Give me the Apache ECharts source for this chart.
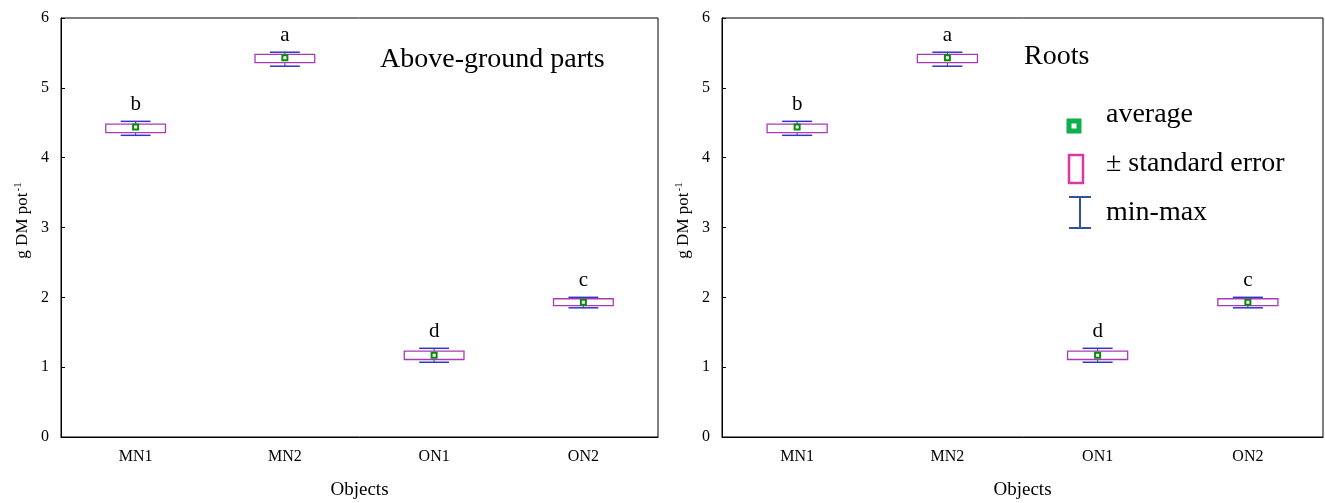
<!DOCTYPE html>
<html>
<head>
<meta charset="utf-8">
<script src="https://cdn.jsdelivr.net/npm/echarts@6/dist/echarts.min.js"></script>
<style>
  html, body { margin: 0; padding: 0; background: #fff; }
  #chart { width: 1325px; height: 503px; }
</style>
</head>
<body>
<div id="chart"></div>
<script>
// categories and values
const categories = ["MN1", "MN2", "ON1", "ON2"];
const minVals = [4.32, 5.31, 1.07, 1.85];
const seLow = [4.36, 5.36, 1.11, 1.88];
const avgVals = [4.44, 5.43, 1.17, 1.93];
const seHigh = [4.48, 5.48, 1.23, 1.98];
const maxVals = [4.52, 5.51, 1.27, 2.00];
const letters = ["b", "a", "d", "c"];
const yTicks = [0, 1, 2, 3, 4, 5, 6];

const font = "Liberation Serif";

function boxData() {
  return categories.map((c, i) => [i, minVals[i], seLow[i], avgVals[i], seHigh[i], maxVals[i], letters[i]]);
}

function renderBox(params, api) {
  const i = api.value(0);
  const band = api.size([1, 0])[0];
  const pMin = api.coord([i, api.value(1)]);
  const pLo = api.coord([i, api.value(2)]);
  const pAvg = api.coord([i, api.value(3)]);
  const pHi = api.coord([i, api.value(4)]);
  const pMax = api.coord([i, api.value(5)]);
  const x = pAvg[0];
  const bw = band * 0.4;
  const ww = band * 0.2;
  const blue = "#3434c4";
  return {
    type: "group",
    children: [
      { type: "line", shape: { x1: x, y1: pMax[1], x2: x, y2: pHi[1] }, style: { stroke: blue, lineWidth: 1 } },
      { type: "line", shape: { x1: x, y1: pLo[1], x2: x, y2: pMin[1] }, style: { stroke: blue, lineWidth: 1 } },
      { type: "line", shape: { x1: x - ww / 2, y1: pMax[1], x2: x + ww / 2, y2: pMax[1] }, style: { stroke: blue, lineWidth: 1.5 } },
      { type: "line", shape: { x1: x - ww / 2, y1: pMin[1], x2: x + ww / 2, y2: pMin[1] }, style: { stroke: blue, lineWidth: 1.5 } },
      { type: "rect", shape: { x: x - bw / 2, y: pHi[1], width: bw, height: pLo[1] - pHi[1] },
        style: { fill: "#fff", stroke: "#a83ab8", lineWidth: 1.3 } },
      { type: "rect", shape: { x: x - 2.5, y: pAvg[1] - 2.5, width: 5, height: 5 },
        style: { fill: "#fff", stroke: "#0a8a0a", lineWidth: 2 } },
      { type: "text", style: { text: api.value(6), x: x, y: pMax[1] - 6, align: "center", verticalAlign: "bottom",
        font: "21px '" + font + "'", fill: "#000" } }
    ]
  };
}

function xAxisCfg(gi) {
  return {
    gridIndex: gi, type: "category", data: categories,
    name: "Objects", nameLocation: "middle", nameGap: 44,
    nameTextStyle: { fontFamily: font, fontSize: 19, color: "#000" },
    axisLine: { lineStyle: { color: "#000", width: 1 } },
    axisTick: { inside: true, alignWithLabel: true, length: 4, lineStyle: { color: "#000" } },
    axisLabel: { fontFamily: font, fontSize: 16, color: "#000", margin: 12 },
    splitLine: { show: false }
  };
}

function yAxisCfg(gi) {
  return {
    gridIndex: gi, type: "value", min: 0, max: 6, interval: 1,
    name: "{a|g DM pot}{b|-1}", nameLocation: "middle", nameGap: 29,
    nameTextStyle: {
      padding: [0, 0, 0, 14],
      rich: {
        a: { fontFamily: font, fontSize: 17, color: "#000" },
        b: { fontFamily: font, fontSize: 11, color: "#000", verticalAlign: "top", padding: [0, 0, 8, 1] }
      }
    },
    axisLine: { show: true, lineStyle: { color: "#000", width: 1 } },
    axisTick: { show: true, inside: true, length: 4, lineStyle: { color: "#000" } },
    axisLabel: { fontFamily: font, fontSize: 16, color: "#000", margin: 12,
      formatter: v => (yTicks.indexOf(v) >= 0 ? String(v) : "") },
    splitLine: { show: false }
  };
}

const legendItems = ["average", "± standard error", "min-max"];
const legendTop = 117;
const legendStep = 49;

const chart = echarts.init(document.getElementById("chart"), null, { renderer: "canvas" });
chart.setOption({
  backgroundColor: "#fff",
  animation: false,
  title: [
    { text: "Above-ground parts", left: 375, top: 41, textStyle: { fontFamily: font, fontSize: 28, fontWeight: "normal", color: "#000" } },
    { text: "Roots", left: 1019, top: 38, textStyle: { fontFamily: font, fontSize: 28, fontWeight: "normal", color: "#000" } }
  ],
  grid: [
    { left: 61, top: 18, width: 597, height: 419, show: true, borderColor: "#000", borderWidth: 1,
      backgroundColor: "transparent", outerBoundsMode: "none" },
    { left: 722, top: 18, width: 601, height: 419, show: true, borderColor: "#000", borderWidth: 1,
      backgroundColor: "transparent", outerBoundsMode: "none" }
  ],
  xAxis: [xAxisCfg(0), xAxisCfg(1)],
  yAxis: [yAxisCfg(0), yAxisCfg(1)],
  series: [
    { type: "custom", xAxisIndex: 0, yAxisIndex: 0, renderItem: renderBox, data: boxData(), encode: { x: 0, y: [1, 5] } },
    { type: "custom", xAxisIndex: 1, yAxisIndex: 1, renderItem: renderBox, data: boxData(), encode: { x: 0, y: [1, 5] } }
  ],
  graphic: [
    // legend swatches
    { type: "rect", shape: { x: 1069, y: 121, width: 10, height: 10 }, style: { fill: "#fff", stroke: "#0fae4e", lineWidth: 5 } },
    { type: "rect", shape: { x: 1069, y: 155, width: 14, height: 28 }, style: { fill: "#fff", stroke: "#d83aa2", lineWidth: 2.5 } },
    { type: "line", shape: { x1: 1069, y1: 197, x2: 1091, y2: 197 }, style: { stroke: "#2f5597", lineWidth: 2 } },
    { type: "line", shape: { x1: 1080, y1: 197, x2: 1080, y2: 228 }, style: { stroke: "#2f5597", lineWidth: 2 } },
    { type: "line", shape: { x1: 1069, y1: 228, x2: 1091, y2: 228 }, style: { stroke: "#2f5597", lineWidth: 2 } }
  ].concat(legendItems.map((t, k) => ({
    type: "text", left: 1106, top: legendTop - 16 + k * legendStep,
    style: { text: t, font: "28px '" + font + "'", fill: "#000" }
  })))
});
</script>
</body>
</html>
